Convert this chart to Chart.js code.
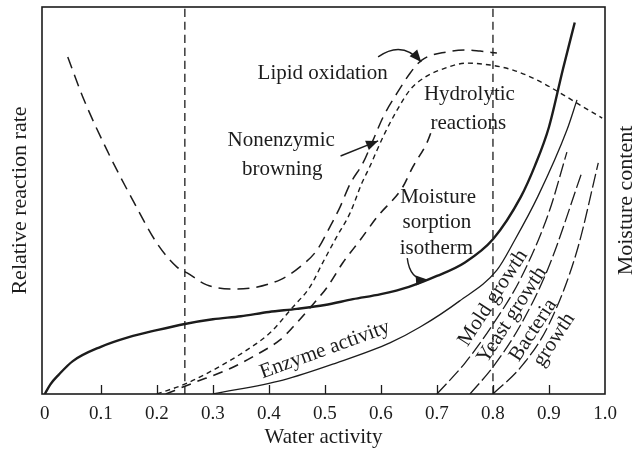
<!DOCTYPE html>
<html><head><meta charset="utf-8">
<script src="https://cdn.jsdelivr.net/npm/chart.js@4/dist/chart.umd.min.js"></script>
<style>html,body{margin:0;padding:0;background:#fff}</style>
</head><body>
<canvas id="c" width="635" height="451"></canvas>
<script>
// ---- data (water activity on x, relative rate / moisture on y, 0..1) ----
const xTickValues = [0, 0.1, 0.2, 0.3, 0.4, 0.5, 0.6, 0.7, 0.8, 0.9, 1.0];
const criticalAw = [0.25, 0.8];

const isothermAw = [0, 0.01, 0.025, 0.05, 0.1, 0.15, 0.2, 0.25, 0.3, 0.35, 0.4, 0.45, 0.5, 0.55, 0.6, 0.65, 0.7, 0.75, 0.8, 0.85, 0.875, 0.9, 0.925, 0.946];
const isothermMC = [0, 0.025, 0.05, 0.085, 0.122, 0.147, 0.165, 0.181, 0.193, 0.201, 0.212, 0.22, 0.23, 0.245, 0.258, 0.277, 0.305, 0.34, 0.4, 0.51, 0.59, 0.69, 0.84, 0.96];

const enzymeAw = [0.3, 0.425, 0.52, 0.616, 0.67, 0.74, 0.807, 0.839, 0.88, 0.932, 0.95];
const enzymeRate = [0, 0.036, 0.08, 0.132, 0.173, 0.24, 0.32, 0.398, 0.51, 0.682, 0.76];

const lipidAw = [0.041, 0.068, 0.111, 0.157, 0.2, 0.236, 0.254, 0.289, 0.343, 0.42, 0.455, 0.486, 0.509, 0.527, 0.545, 0.568, 0.586, 0.604, 0.629, 0.652, 0.673, 0.718, 0.754, 0.777, 0.807];
const lipidRate = [0.871, 0.767, 0.63, 0.501, 0.39, 0.328, 0.313, 0.282, 0.271, 0.295, 0.328, 0.372, 0.432, 0.483, 0.543, 0.597, 0.656, 0.716, 0.778, 0.829, 0.863, 0.884, 0.889, 0.886, 0.881];

const browningAw = [0.2, 0.254, 0.307, 0.361, 0.402, 0.443, 0.473, 0.496, 0.521, 0.545, 0.566, 0.58, 0.593, 0.607, 0.629, 0.652, 0.679, 0.705, 0.754, 0.795, 0.836, 0.879, 0.92, 0.955, 0.995];
const browningRate = [0, 0.028, 0.067, 0.114, 0.158, 0.225, 0.276, 0.339, 0.406, 0.468, 0.545, 0.587, 0.63, 0.674, 0.734, 0.786, 0.819, 0.837, 0.855, 0.85, 0.837, 0.811, 0.778, 0.747, 0.713];

const hydrolyticAw = [0.216, 0.264, 0.325, 0.371, 0.42, 0.443, 0.473, 0.504, 0.532, 0.563, 0.593, 0.639, 0.657, 0.682, 0.693];
const hydrolyticRate = [0, 0.028, 0.062, 0.096, 0.14, 0.173, 0.222, 0.276, 0.339, 0.398, 0.457, 0.535, 0.587, 0.649, 0.69];

const moldAw = [0.7, 0.75, 0.8, 0.85, 0.9, 0.932];
const moldRate = [0, 0.08, 0.18, 0.3, 0.47, 0.625];
const yeastAw = [0.759, 0.8, 0.85, 0.9, 0.959];
const yeastRate = [0, 0.07, 0.18, 0.33, 0.574];
const bacteriaAw = [0.8, 0.85, 0.9, 0.95, 0.988];
const bacteriaRate = [0, 0.07, 0.18, 0.37, 0.597];

// ---- styling & annotations ----
const INK = '#1c1c1c';
const FONT = "'Liberation Serif', 'Times New Roman', serif";

const textLabels = [
  {text: 'Lipid oxidation', x: 0.496, y: 0.829},
  {text: 'Nonenzymic', x: 0.422, y: 0.654},
  {text: 'browning', x: 0.424, y: 0.581},
  {text: 'Hydrolytic', x: 0.758, y: 0.775},
  {text: 'reactions', x: 0.756, y: 0.698},
  {text: 'Moisture', x: 0.702, y: 0.509},
  {text: 'sorption', x: 0.700, y: 0.444},
  {text: 'isotherm', x: 0.699, y: 0.375},
  {text: 'Enzyme activity', x: 0.500, y: 0.114, rot: -20},
  {text: 'Mold growth', x: 0.800, y: 0.248, rot: -57},
  {text: 'Yeast growth', x: 0.834, y: 0.204, rot: -57},
  {text: 'Bacteria', x: 0.872, y: 0.165, rot: -57},
  {text: 'growth', x: 0.909, y: 0.140, rot: -57}
];
const arrows = [
  {from: [0.595, 0.871], ctrl: [0.638, 0.915], to: [0.672, 0.858]},
  {from: [0.528, 0.615], ctrl: null, to: [0.595, 0.654]},
  {from: [0.647, 0.351], ctrl: [0.652, 0.292], to: [0.684, 0.295]}
];

function pts(xs, ys) { return xs.map((v, i) => ({x: v, y: ys[i]})); }
function ds(data, width, dash) {
  return {data, borderColor: INK, borderWidth: width, borderDash: dash || [], pointRadius: 0,
          fill: false, cubicInterpolationMode: 'monotone', borderCapStyle: 'butt'};
}

const datasets = [
  ds(pts(isothermAw, isothermMC), 2.4),
  ds(pts(enzymeAw, enzymeRate), 1.3),
  ds(pts(lipidAw, lipidRate), 1.5, [12, 7]),
  ds(pts(browningAw, browningRate), 1.4, [5, 4]),
  ds(pts(hydrolyticAw, hydrolyticRate), 1.6, [10, 7]),
  ds(pts(moldAw, moldRate), 1.3, [14, 4]),
  ds(pts(yeastAw, yeastRate), 1.3, [14, 4]),
  ds(pts(bacteriaAw, bacteriaRate), 1.3, [14, 4])
];
criticalAw.forEach(a => datasets.push(ds([{x: a, y: 0}, {x: a, y: 1}], 1.3, [8, 5])));

const decor = {
  id: 'decor',
  afterDatasetsDraw(chart) {
    const {ctx, chartArea: a, scales: {x, y}} = chart;
    ctx.save();
    ctx.strokeStyle = INK; ctx.fillStyle = INK;
    ctx.lineWidth = 1.6;
    ctx.strokeRect(a.left, a.top, a.right - a.left, a.bottom - a.top);
    ctx.lineWidth = 1.3;
    x.ticks.forEach(t => {
      if (t.value > 0 && t.value < 1) {
        const px = Math.round(x.getPixelForValue(t.value)) + 0.5;
        ctx.beginPath(); ctx.moveTo(px, a.bottom); ctx.lineTo(px, a.bottom - 9); ctx.stroke();
      }
    });
    ctx.font = '21px ' + FONT; ctx.textAlign = 'center'; ctx.textBaseline = 'middle';
    textLabels.forEach(l => {
      ctx.save();
      ctx.translate(x.getPixelForValue(l.x), y.getPixelForValue(l.y));
      ctx.rotate((l.rot || 0) * Math.PI / 180);
      ctx.fillText(l.text, 0, 0);
      ctx.restore();
    });
    arrows.forEach(ar => {
      const fx = x.getPixelForValue(ar.from[0]), fy = y.getPixelForValue(ar.from[1]);
      const tx = x.getPixelForValue(ar.to[0]), ty = y.getPixelForValue(ar.to[1]);
      let dx, dy;
      ctx.lineWidth = 1.4;
      ctx.beginPath(); ctx.moveTo(fx, fy);
      if (ar.ctrl) {
        const cx = x.getPixelForValue(ar.ctrl[0]), cy = y.getPixelForValue(ar.ctrl[1]);
        ctx.quadraticCurveTo(cx, cy, tx, ty); dx = tx - cx; dy = ty - cy;
      } else { ctx.lineTo(tx, ty); dx = tx - fx; dy = ty - fy; }
      ctx.stroke();
      const L = Math.hypot(dx, dy); const ux = dx / L, uy = dy / L;
      const len = 12, w = 5;
      ctx.beginPath();
      ctx.moveTo(tx, ty);
      ctx.lineTo(tx - ux * len - uy * w, ty - uy * len + ux * w);
      ctx.lineTo(tx - ux * len + uy * w, ty - uy * len - ux * w);
      ctx.closePath(); ctx.fill();
    });
    ctx.save();
    ctx.font = '22px ' + FONT;
    ctx.translate(626, (a.top + a.bottom) / 2);
    ctx.rotate(-Math.PI / 2);
    ctx.fillText('Moisture content', 0, 0);
    ctx.restore();
    ctx.restore();
  }
};

new Chart(document.getElementById('c'), {
  type: 'line',
  data: {datasets},
  plugins: [decor],
  options: {
    responsive: false, devicePixelRatio: 1, animation: false,
    layout: {padding: {top: 7, left: 0, right: 0, bottom: 0}},
    plugins: {legend: {display: false}, tooltip: {enabled: false}},
    scales: {
      x: {
        type: 'linear', min: -0.005, max: 1.0,
        afterBuildTicks: s => { s.ticks = xTickValues.map(v => ({value: v})); },
        afterFit: s => { s.height = 57; },
        grid: {display: false, drawTicks: false},
        border: {display: false},
        ticks: {padding: 9, color: INK, font: {family: FONT, size: 19},
                callback: v => v === 0 ? '0' : v.toFixed(1)},
        title: {display: true, text: 'Water activity', color: INK, font: {family: FONT, size: 21},
                padding: {top: 0, bottom: 1}}
      },
      y: {
        type: 'linear', min: 0, max: 1,
        afterFit: s => { s.width = 42; },
        grid: {display: false, drawTicks: false}, border: {display: false},
        ticks: {display: false},
        title: {display: true, text: 'Relative reaction rate', color: INK, font: {family: FONT, size: 22},
                padding: {top: 7, bottom: 0}}
      },
      y2: {
        type: 'linear', position: 'right', min: 0, max: 1,
        afterFit: s => { s.width = 30; },
        grid: {display: false, drawTicks: false}, border: {display: false},
        ticks: {display: false}
      }
    }
  }
});
</script>
</body></html>
